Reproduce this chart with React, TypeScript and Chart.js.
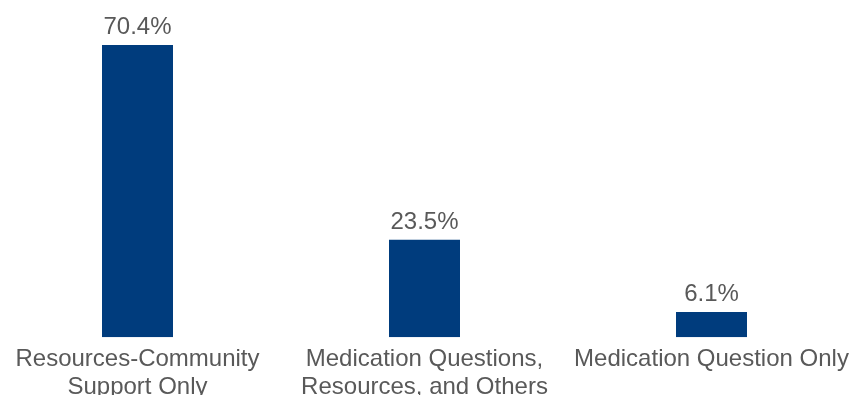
import React, { useEffect, useRef } from "react";
import { Chart, registerables } from "chart.js";

Chart.register(...registerables);

const categories: string[][] = [
  ["Resources-Community", "Support Only"],
  ["Medication Questions,", "Resources, and Others"],
  ["Medication Question Only"],
];
const values: number[] = [70.4, 23.5, 6.1];
const valueLabels: string[] = ["70.4%", "23.5%", "6.1%"];

const FONT = "'Liberation Sans', Arial, sans-serif";
const TEXT = "#595959";
const BAR = "#003C7D";

const valueLabelPlugin = {
  id: "valueLabels",
  afterDatasetsDraw(chart: any) {
    const ctx = chart.ctx;
    const meta = chart.getDatasetMeta(0);
    ctx.save();
    ctx.font = `24px ${FONT}`;
    ctx.fillStyle = TEXT;
    ctx.textAlign = "center";
    ctx.textBaseline = "alphabetic";
    meta.data.forEach((el: any, i: number) => {
      ctx.fillText(valueLabels[i], el.x, el.y - 11);
    });
    ctx.restore();
  },
};

export default function App() {
  const ref = useRef<HTMLCanvasElement | null>(null);
  useEffect(() => {
    if (!ref.current) return;
    const chart = new Chart(ref.current, {
      type: "bar",
      data: {
        labels: categories,
        datasets: [
          {
            data: values,
            backgroundColor: BAR,
            categoryPercentage: 1,
            barPercentage: 71 / 287,
          },
        ],
      },
      options: {
        animation: false,
        responsive: true,
        maintainAspectRatio: false,
        layout: { padding: { top: 5, left: 0, right: 0, bottom: 0 } },
        plugins: { legend: { display: false }, tooltip: { enabled: false } },
        scales: {
          x: {
            grid: { display: false },
            border: { display: false },
            ticks: {
              color: TEXT,
              font: { family: FONT, size: 24, lineHeight: 1.18 },
              padding: 0,
              maxRotation: 0,
              autoSkip: false,
            },
          },
          y: {
            display: false,
            min: 0,
            max: 80,
          },
        },
      },
      plugins: [valueLabelPlugin],
    });
    return () => chart.destroy();
  }, []);
  return (
    <div
      style={{
        position: "fixed",
        left: -6,
        top: 0,
        width: 861,
        height: 402,
        background: "#fff",
      }}
    >
      <canvas ref={ref} />
    </div>
  );
}
